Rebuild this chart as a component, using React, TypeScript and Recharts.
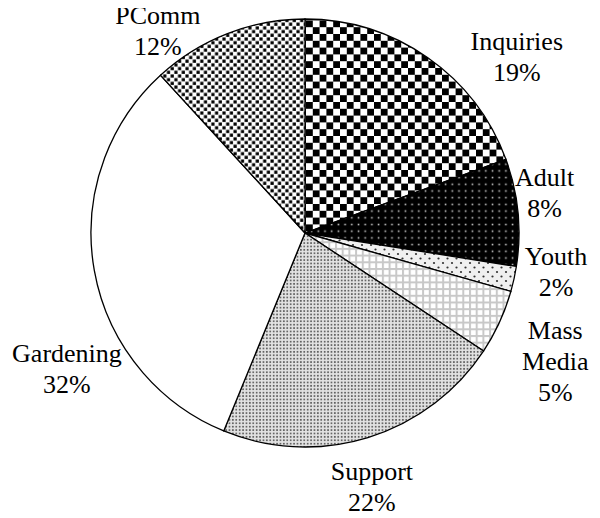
import React from 'react';
import { PieChart, Pie, Cell } from 'recharts';

const NAMES = ['Inquiries', 'Adult', 'Youth', 'Mass Media', 'Support', 'Gardening', 'PComm'];
const VALUES = [19.4, 8.1, 1.9, 4.9, 21.9, 32.0, 11.8];
const PATTERN_IDS = ['pInq', 'pAdult', 'pYouth', 'pMass', 'pSupport', 'pGarden', 'pPComm'];

// label placement tweaks (angle offset in degrees, radial distance in px)
const LABEL_ADJUST = [
  { da: -15.2, r: 276 },
  { da: 4.0, r: 243 },
  { da: 3.7, r: 254 },
  { da: -2.4, r: 281 },
  { da: -2.3, r: 262 },
  { da: 19.6, r: 274 },
  { da: 14.8, r: 250 },
];

const data = NAMES.map((name, i) => ({ name, value: VALUES[i] }));

const LINE_H = 31;

const renderLabel = (props: any) => {
  const { cx, cy, midAngle, index, percent } = props;
  const adj = LABEL_ADJUST[index];
  const a = ((midAngle + adj.da) * Math.PI) / 180;
  const x = cx + adj.r * Math.cos(a);
  const y = cy - adj.r * Math.sin(a);
  const lines = [...NAMES[index].split(' '), `${Math.round(percent * 100)}%`];
  const first = y - ((lines.length - 1) * LINE_H) / 2 + 9;
  return (
    <text
      key={`lbl-${index}`}
      x={x}
      y={first}
      textAnchor="middle"
      fontFamily="Liberation Serif"
      fontSize={26}
      fill="#000"
    >
      {lines.map((t, k) => (
        <tspan key={k} x={x} dy={k === 0 ? 0 : LINE_H}>
          {t}
        </tspan>
      ))}
    </text>
  );
};

export default function App() {
  return (
    <PieChart width={600} height={518} margin={{ top: 0, right: 0, bottom: 0, left: 0 }} style={{ marginLeft: -8, marginTop: -8 }}>
      <defs>
        <pattern id="pInq" patternUnits="userSpaceOnUse" width={13.6} height={13.6}>
          <rect width={13.6} height={13.6} fill="#fff" />
          <rect x={0} y={0} width={6.8} height={6.8} fill="#000" />
          <rect x={6.8} y={6.8} width={6.8} height={6.8} fill="#000" />
        </pattern>
        <pattern id="pAdult" patternUnits="userSpaceOnUse" width={6.7} height={6.7}>
          <rect width={6.7} height={6.7} fill="#000" />
          <rect x={2.6} y={2.6} width={1.6} height={1.6} fill="#c8c8c8" />
        </pattern>
        <pattern id="pYouth" patternUnits="userSpaceOnUse" width={9} height={9}>
          <rect width={9} height={9} fill="#f0f0f0" />
          <circle cx={2} cy={2} r={1.1} fill="#333" />
          <circle cx={6.5} cy={6.5} r={1.1} fill="#333" />
        </pattern>
        <pattern id="pMass" patternUnits="userSpaceOnUse" width={6.7} height={6.7}>
          <rect width={6.7} height={6.7} fill="#fff" />
          <rect x={0} y={0} width={6.7} height={2} fill="#c8c8c8" />
          <rect x={0} y={0} width={2} height={6.7} fill="#c8c8c8" />
        </pattern>
        <pattern id="pSupport" patternUnits="userSpaceOnUse" width={3.4} height={3.4}>
          <rect width={3.4} height={3.4} fill="#e2e2e2" />
          <rect x={0.8} y={0.8} width={1.7} height={1.7} fill="#606060" />
        </pattern>
        <pattern id="pGarden" patternUnits="userSpaceOnUse" width={4} height={4}>
          <rect width={4} height={4} fill="#fff" />
        </pattern>
        <pattern id="pPComm" patternUnits="userSpaceOnUse" width={7.4} height={7.4}>
          <rect width={7.4} height={7.4} fill="#fff" />
          <rect x={0.4} y={0.4} width={3.2} height={3.2} fill="#000" />
          <rect x={4.1} y={4.1} width={3.2} height={3.2} fill="#000" />
        </pattern>
      </defs>
      <Pie
        data={data}
        dataKey="value"
        nameKey="name"
        cx={305}
        cy={233}
        outerRadius={214}
        startAngle={90}
        endAngle={-270}
        stroke="#000"
        strokeWidth={1.3}
        labelLine={false}
        label={renderLabel}
        isAnimationActive={false}
      >
        {data.map((d, i) => (
          <Cell key={d.name} fill={`url(#${PATTERN_IDS[i]})`} />
        ))}
      </Pie>
    </PieChart>
  );
}
